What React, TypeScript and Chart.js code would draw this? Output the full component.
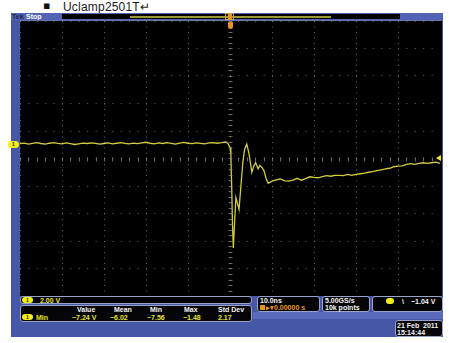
import React, { useEffect, useRef } from "react";
import { Chart, registerables } from "chart.js";

Chart.register(...registerables);

// ---- data (time in ns, voltage in V) ----
const timeNs = [
  -50, -49, -48, -47, -46, -45, -44, -43, -42, -41,
  -40, -39, -38, -37, -36, -35, -34, -33, -32, -31,
  -30, -29, -28, -27, -26, -25, -24, -23, -22, -21,
  -20, -19, -18, -17, -16, -15, -14, -13, -12, -11,
  -10, -9, -8, -7, -6, -5, -4, -3, -2, -1,
  -0.5, 0, 0.2, 0.4, 0.6, 0.8, 1.05, 1.4, 1.8, 2.15,
  2.6, 3.1, 3.5, 4.0, 4.5, 5.2, 5.6, 6.1, 6.7, 7.1,
  7.6, 8.1, 8.6, 9.1,
  10, 11, 12, 13, 14, 15, 16, 17, 18, 19,
  20, 21, 22, 23, 24, 25, 26, 27, 28, 29,
  30, 31, 32, 33, 34, 35, 36, 37, 38, 39,
  40, 41, 42, 43, 44, 45, 46, 47, 48, 49, 50,
];

const volts = [
  0.08, 0.12, 0.05, 0.1, 0.15, 0.09, 0.04, 0.11, 0.16, 0.1,
  0.06, 0.13, 0.08, 0.02, 0.07, 0.12, 0.09, 0.14, 0.1, 0.05,
  0.09, 0.13, 0.07, 0.11, 0.16, 0.1, 0.06, 0.12, 0.08, 0.14,
  0.18, 0.11, 0.07, 0.13, 0.09, 0.15, 0.1, 0.05, 0.12, 0.17,
  0.11, 0.08, 0.14, 0.1, 0.06, 0.13, 0.16, 0.11, 0.15, 0.2,
  0.1, -0.2, -0.65, -3.1, -5.9, -7.5, -5.9, -3.85, -4.3, -4.7,
  -3.0, -1.15, -0.3, 0.05, -0.6, -2.0, -1.6, -1.3, -1.75, -1.5,
  -1.65, -1.9, -2.45, -2.8,
  -2.65, -2.55, -2.49, -2.62, -2.65, -2.57, -2.44, -2.58, -2.47, -2.33,
  -2.38, -2.4, -2.31, -2.25, -2.29, -2.22, -2.22, -2.25, -2.15, -2.22,
  -2.15, -2.11, -2.07, -2.0, -1.96, -1.89, -1.82, -1.75, -1.71, -1.6,
  -1.56, -1.53, -1.42, -1.38, -1.42, -1.35, -1.31, -1.35, -1.31, -1.27, -1.35,
];

const xTicks = [-50, -40, -30, -20, -10, 0, 10, 20, 30, 40, 50];
const yTicks = [-11, -9, -7, -5, -3, -1, 1, 3, 5, 7, 9];
const xRange = [-50, 50];
const yRange = [-11, 9];

const titleText = "Uclamp2501T\u21b5";
const channelScale = "2.00 V";
const measName = "Min";
const measHeaders = ["Value", "Mean", "Min", "Max", "Std Dev"];
const measValues = ["\u22127.24 V", "\u22126.02", "\u22127.56", "\u22121.48", "2.17"];
const timebase = "10.0ns";
const trigPos = "0.00000 s";
const sampleRate = "5.00GS/s";
const recordLen = "10k points";
const trigLevel = "\u22121.04 V";
const dateText = "21 Feb  2011";
const timeText = "15:14:44";

// ---- layout constants ----
const headerX = [77, 114, 150, 184, 218];
const valueX = [72, 110, 147, 183, 218];

const BLUE = "#4757a7";
const YEL = "#e6e22a";
const TRACE = "#d2cc3e";
const ORANGE = "#e8941e";
const FONT = "'Liberation Sans', Arial, sans-serif";

const centerTicks = {
  id: "centerTicks",
  afterDraw(chart: any) {
    const { ctx, scales } = chart;
    const xs = scales.x;
    const ys = scales.y;
    ctx.save();
    ctx.strokeStyle = "rgba(140,140,140,0.7)";
    ctx.lineWidth = 1;
    const cy = Math.round(ys.getPixelForValue(-1)) + 0.5;
    const cx = Math.round(xs.getPixelForValue(0)) + 0.5;
    ctx.beginPath();
    for (let v = xRange[0]; v <= xRange[1]; v += 2) {
      const px = Math.round(xs.getPixelForValue(v)) + 0.5;
      ctx.moveTo(px, cy - 2);
      ctx.lineTo(px, cy + 2);
    }
    for (let v = yRange[0]; v <= yRange[1] + 0.001; v += 0.4) {
      const py = Math.round(ys.getPixelForValue(v)) + 0.5;
      ctx.moveTo(cx - 2, py);
      ctx.lineTo(cx + 2, py);
    }
    ctx.stroke();
    ctx.restore();
  },
};

function Pill({ x, y, w = 11, h = 6 }: { x: number; y: number; w?: number; h?: number }) {
  return (
    <div
      style={{
        position: "absolute",
        left: x,
        top: y,
        width: w,
        height: h,
        borderRadius: h / 2,
        background: "#f2ee1c",
        color: "#222",
        fontSize: 5,
        fontWeight: "bold",
        lineHeight: h + "px",
        textAlign: "center",
        fontFamily: FONT,
      }}
    >
      1
    </div>
  );
}

function T({ x, y, color = "#fff", size = 7, children }: any) {
  return (
    <div
      style={{
        position: "absolute",
        left: x,
        top: y,
        color,
        fontSize: size,
        fontWeight: "bold",
        fontFamily: FONT,
        lineHeight: "1",
        whiteSpace: "pre",
      }}
    >
      {children}
    </div>
  );
}

function Box({ x, y, w, h }: { x: number; y: number; w: number; h: number }) {
  return (
    <div
      style={{
        position: "absolute",
        left: x,
        top: y,
        width: w,
        height: h,
        boxSizing: "border-box",
        background: "#050508",
        border: "1px solid #9aa2c8",
        borderRadius: 3,
      }}
    />
  );
}

export default function App() {
  const ref = useRef<HTMLCanvasElement>(null);

  useEffect(() => {
    if (!ref.current) return;
    const chart = new Chart(ref.current, {
      type: "line",
      data: {
        datasets: [
          {
            data: timeNs.map((t, i) => ({ x: t, y: volts[i] })),
            borderColor: TRACE,
            borderWidth: 1.3,
            pointRadius: 0,
            tension: 0,
          },
        ],
      },
      options: {
        responsive: false,
        animation: false,
        maintainAspectRatio: false,
        layout: { padding: 0 },
        plugins: { legend: { display: false }, tooltip: { enabled: false } },
        scales: {
          x: {
            type: "linear",
            min: xRange[0],
            max: xRange[1],
            afterBuildTicks: (s: any) => {
              s.ticks = xTicks.map((v) => ({ value: v }));
            },
            ticks: { display: false },
            grid: { color: "rgba(130,130,130,0.75)", drawTicks: false, lineWidth: 1 },
            border: { display: false, dash: [1, 4.5] },
          },
          y: {
            type: "linear",
            min: yRange[0],
            max: yRange[1],
            afterBuildTicks: (s: any) => {
              s.ticks = yTicks.map((v) => ({ value: v }));
            },
            ticks: { display: false },
            grid: { color: "rgba(130,130,130,0.75)", drawTicks: false, lineWidth: 1 },
            border: { display: false, dash: [1, 7.4] },
          },
        },
      } as any,
      plugins: [centerTicks],
    });
    return () => chart.destroy();
  }, []);

  return (
    <div
      style={{
        position: "fixed",
        left: 0,
        top: 0,
        width: 449,
        height: 343,
        background: "#fff",
        overflow: "hidden",
        fontFamily: FONT,
      }}
    >
      {/* document title line */}
      <div style={{ position: "absolute", left: 43, top: -1, fontSize: 11, color: "#111", fontFamily: "'DejaVu Sans', sans-serif" }}>
        {"\u25aa"}
      </div>
      <div style={{ position: "absolute", left: 63, top: 0, fontSize: 12, color: "#1a1a1a", fontFamily: FONT, letterSpacing: 0.2 }}>
        {titleText}
      </div>

      {/* scope frame */}
      <div style={{ position: "absolute", left: 11, top: 13, width: 432, height: 324, background: BLUE }} />
      {/* top status bar */}
      <div style={{ position: "absolute", left: 11, top: 13, width: 432, height: 7, background: "#5262b4" }} />
      <T x={12} y={13} size={7} color="#1b1f4a">Tek</T>
      <T x={26} y={13} size={7} color="#ffffff">Stop</T>
      <div style={{ position: "absolute", left: 62, top: 14, width: 338, height: 5, background: "#000" }} />
      <div style={{ position: "absolute", left: 130, top: 16, width: 201, height: 1.5, background: "#9c9a36" }} />
      <div style={{ position: "absolute", left: 225, top: 13, width: 9, height: 7, boxSizing: "border-box", border: "1px solid #c9a24a" }} />
      <div style={{ position: "absolute", left: 228, top: 14, width: 4, height: 6, background: ORANGE }} />

      {/* graticule background */}
      <div style={{ position: "absolute", left: 20, top: 20, width: 422, height: 276, background: "#000" }} />
      <div style={{ position: "absolute", left: 20, top: 20, width: 422, height: 1, background: "#6b74a8" }} />
      <canvas
        ref={ref}
        width={420}
        height={275}
        style={{ position: "absolute", left: 20, top: 21, width: 420, height: 275, display: "block", background: "#000" }}
      />
      {/* trigger position marker */}
      <div style={{ position: "absolute", left: 228, top: 22, width: 5, height: 7, background: ORANGE, borderRadius: "1px 1px 3px 3px" }} />
      {/* ground marker ch1 */}
      <Pill x={8} y={141} w={11} h={7} />
      {/* trigger level marker */}
      <div
        style={{
          position: "absolute",
          left: 436,
          top: 155,
          width: 5,
          height: 6,
          background: "#f2ee1c",
          clipPath: "polygon(0 50%, 100% 0, 100% 100%)",
        }}
      />

      {/* bottom readouts */}
      <Box x={20} y={296} w={232} h={8} />
      <Pill x={22} y={297} />
      <T x={40} y={297} color={YEL}>{channelScale}</T>

      <Box x={20} y={305} w={232} h={17} />
      {measHeaders.map((h, i) => (
        <T key={"h" + i} x={headerX[i]} y={306} color="#f4f4f4">{h}</T>
      ))}
      <Pill x={22} y={314} />
      <T x={36} y={314} color={YEL}>{measName}</T>
      {measValues.map((v, i) => (
        <T key={"v" + i} x={valueX[i]} y={314} color={YEL}>{v}</T>
      ))}

      <Box x={257} y={296} w={63} h={16} />
      <T x={260} y={297} color="#f4f4f4">{timebase}</T>
      <div style={{ position: "absolute", left: 260, top: 305, width: 5, height: 5, background: ORANGE }} />
      <T x={266} y={304} color={ORANGE}>{"\u25b8\u25be" + trigPos}</T>

      <Box x={322} y={296} w={48} h={16} />
      <T x={325} y={297} color="#f4f4f4">{sampleRate}</T>
      <T x={325} y={304} color="#f4f4f4">{recordLen}</T>

      <Box x={372} y={296} w={71} h={16} />
      <div style={{ position: "absolute", left: 386, top: 298, width: 8, height: 6, borderRadius: 3, background: "#f2ee1c" }} />
      <T x={402} y={298} color="#f4f4f4">{"\\"}</T>
      <T x={411} y={298} color="#f4f4f4">{trigLevel}</T>

      <div style={{ position: "absolute", left: 253, top: 312, width: 190, height: 7, background: "#5a6abc" }} />
      <Box x={395} y={320} w={48} h={17} />
      <T x={397} y={322} color="#f4f4f4">{dateText}</T>
      <T x={397} y={329} color="#f4f4f4">{timeText}</T>
    </div>
  );
}
